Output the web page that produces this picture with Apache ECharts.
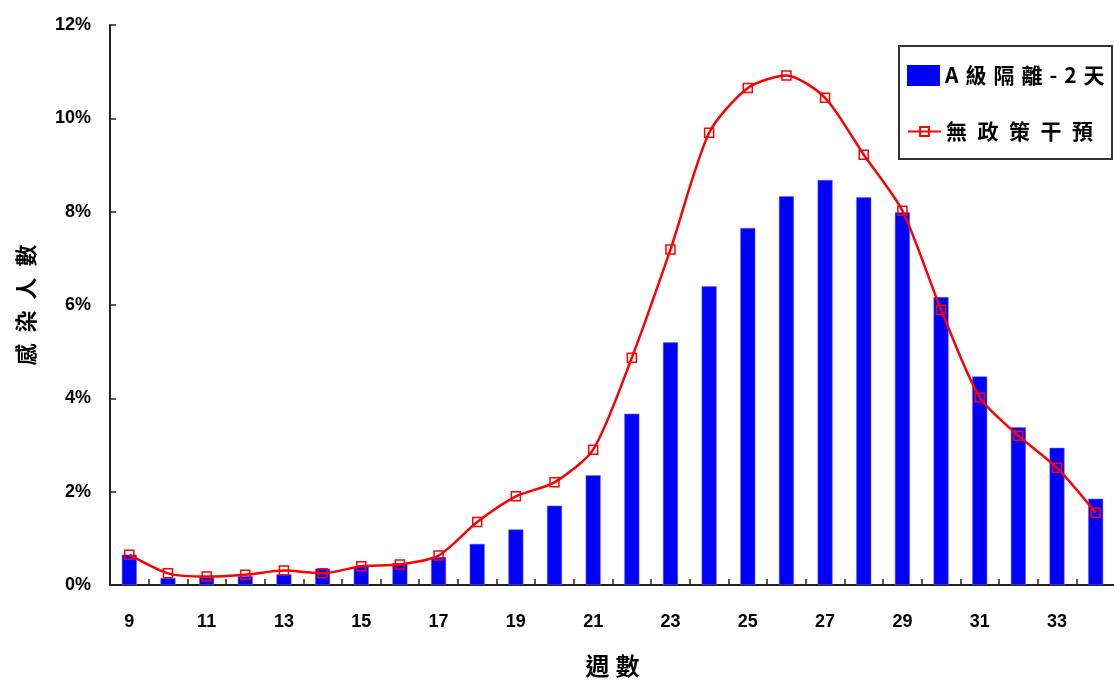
<!DOCTYPE html>
<html>
<head>
<meta charset="utf-8">
<script src="https://cdn.jsdelivr.net/npm/echarts@6/dist/echarts.min.js"></script>
<style>
  html, body { margin: 0; padding: 0; background: #ffffff; }
  #chart { width: 1114px; height: 680px; }
</style>
</head>
<body>
<div id="chart"></div>
<script>
// Week numbers on the horizontal axis
const weeks = ['9', '10', '11', '12', '13', '14', '15', '16', '17', '18', '19', '20', '21',
               '22', '23', '24', '25', '26', '27', '28', '29', '30', '31', '32', '33', '34'];

// Share of infections per week (%), grade-A isolation for 2 days
const isolationA2 = [0.65, 0.15, 0.17, 0.19, 0.23, 0.35, 0.40, 0.47, 0.60, 0.88, 1.19, 1.70, 2.35,
                     3.67, 5.20, 6.40, 7.65, 8.33, 8.68, 8.31, 7.99, 6.17, 4.47, 3.38, 2.94, 1.85];

// Share of infections per week (%), no policy intervention
const noPolicy = [0.65, 0.25, 0.18, 0.22, 0.31, 0.25, 0.40, 0.44, 0.63, 1.35, 1.90, 2.20, 2.90,
                  4.87, 7.19, 9.69, 10.65, 10.92, 10.44, 9.22, 8.02, 5.90, 4.02, 3.20, 2.51, 1.55];

const seriesNames = ['A級隔離-2天', '無政策干預'];
const xAxisTitle = '週數';
const yAxisTitle = '感染人數';

// Spread characters of a label apart with a given space character
const spread = (s, gap) => s.split('').join(gap);

const cjk = '"Noto Sans CJK TC", "Noto Sans CJK SC", sans-serif';
const narrow = '"Liberation Sans Narrow", "Arial Narrow", "Liberation Sans", Arial, sans-serif';

const chart = echarts.init(document.getElementById('chart'), null, { renderer: 'canvas' });

const legendText = { color: '#000', fontFamily: cjk, fontSize: 21, fontWeight: 'bold' };

chart.setOption({
  animation: false,
  backgroundColor: '#ffffff',
  grid: { left: 110, right: -1, top: 25, bottom: 95, containLabel: false, outerBoundsMode: 'none' },
  graphic: [{
    type: 'rect',
    z: 3,
    shape: { x: 899, y: 46, width: 213, height: 113 },
    style: { fill: '#ffffff', stroke: '#333333', lineWidth: 2 }
  }],
  legend: [{
    data: [{ name: seriesNames[0], icon: 'rect' }],
    left: 902, top: 60, padding: 5,
    itemWidth: 33, itemHeight: 21,
    itemStyle: { borderWidth: 0 },
    formatter: (n) => spread(n, '\u2004'),
    textStyle: legendText
  }, {
    data: [seriesNames[1]],
    left: 902, top: 116, padding: 5,
    itemWidth: 33, itemHeight: 11,
    formatter: (n) => spread(n, '\u2002'),
    textStyle: legendText
  }],
  xAxis: {
    type: 'category',
    data: weeks,
    boundaryGap: true,
    name: spread(xAxisTitle, '\u2005'),
    nameLocation: 'middle',
    nameGap: 69,
    nameTextStyle: { color: '#000', fontFamily: cjk, fontSize: 24, fontWeight: 'bold', verticalAlign: 'top' },
    axisLine: { show: true, onZero: false, lineStyle: { color: '#222', width: 2 } },
    axisTick: { show: true, inside: true, length: 6, interval: 0, alignWithLabel: false,
                lineStyle: { color: '#222', width: 1.5 } },
    axisLabel: { interval: 1, margin: 28, color: '#000', fontFamily: narrow, fontSize: 18, fontWeight: 'bold' },
    splitLine: { show: false }
  },
  yAxis: {
    type: 'value',
    min: 0, max: 12, interval: 2,
    name: spread(yAxisTitle, '\u2002'),
    nameLocation: 'middle',
    nameRotate: 90,
    nameGap: 73,
    nameTextStyle: { color: '#000', fontFamily: cjk, fontSize: 22, fontWeight: 'bold' },
    axisLine: { show: true, lineStyle: { color: '#222', width: 2 } },
    axisTick: { show: true, inside: true, length: 6, lineStyle: { color: '#222', width: 1.5 } },
    axisLabel: { formatter: '{value}%', margin: 19, color: '#000', fontFamily: narrow, fontSize: 18, fontWeight: 'bold' },
    splitLine: { show: false }
  },
  series: [{
    name: seriesNames[0],
    type: 'bar',
    data: isolationA2,
    barWidth: 15,
    itemStyle: { color: '#0000ff', borderColor: '#6a6aff', borderWidth: 0.5 },
    z: 2
  }, {
    name: seriesNames[1],
    type: 'line',
    data: noPolicy,
    smooth: 0.25,
    symbol: 'rect',
    symbolSize: 9,
    showAllSymbol: true,
    lineStyle: { color: '#ff0000', width: 2.5 },
    itemStyle: { color: 'rgba(255,255,255,0)', borderColor: '#ff0000', borderWidth: 1.5 },
    z: 3
  }]
});
</script>
</body>
</html>
